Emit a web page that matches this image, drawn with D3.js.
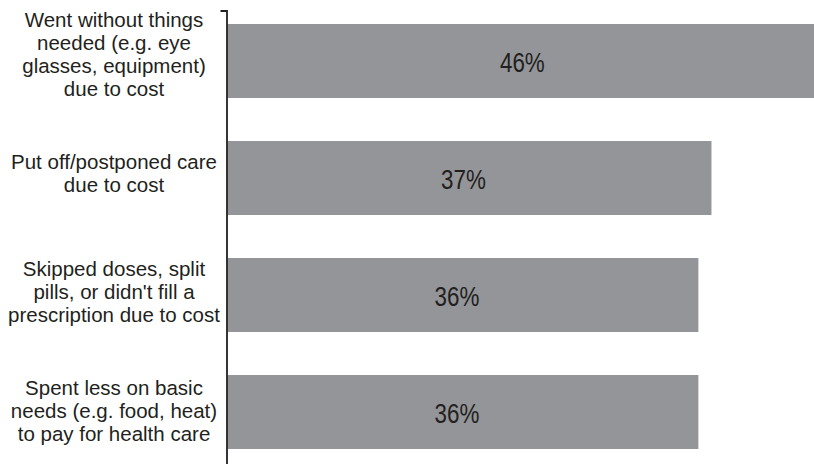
<!DOCTYPE html>
<html>
<head>
<meta charset="utf-8">
<script src="https://cdn.jsdelivr.net/npm/d3@7/dist/d3.min.js"></script>
<style>
  html, body { margin: 0; padding: 0; background: #ffffff; }
  svg { display: block; }
</style>
</head>
<body>
<div id="chart"></div>
<script>
// ---- Data ----
const categories = [
  ["Went without things", "needed (e.g. eye", "glasses, equipment)", "due to cost"],
  ["Put off/postponed care", "due to cost"],
  ["Skipped doses, split", "pills, or didn't fill a", "prescription due to cost"],
  ["Spent less on basic", "needs (e.g. food, heat)", "to pay for health care"]
];
const values = [46, 37, 36, 36];
const valueLabels = ["46%", "37%", "36%", "36%"];

// ---- Layout ----
const W = 814, H = 464;
const axisX = 226.5;
const barLeft = 227.5;

const svg = d3.select("#chart").append("svg")
  .attr("width", W).attr("height", H)
  .attr("viewBox", `0 0 ${W} ${H}`);

const y = d3.scaleBand()
  .domain(d3.range(categories.length))
  .range([10.5, 490])
  .paddingInner(0.3675)
  .paddingOuter(0.2329)
  .align(0.2477);

const x = d3.scaleLinear()
  .domain([0, 50])
  .range([barLeft, barLeft + 654]);

const textColor = "#231f20";
const barColor = "#939598";

// bars
svg.append("g").selectAll("rect")
  .data(values)
  .join("rect")
  .attr("x", x(0))
  .attr("y", (d, i) => y(i))
  .attr("width", d => x(d) - x(0))
  .attr("height", y.bandwidth())
  .attr("fill", barColor);

// value labels (condensed rendering of a sans face)
svg.append("g").selectAll("text")
  .data(values)
  .join("text")
  .attr("transform", (d, i) =>
    `translate(${x(d / 2) - 6},${y(i) + y.bandwidth() / 2 + 11}) scale(0.8,1)`)
  .attr("text-anchor", "middle")
  .attr("font-family", "'Liberation Sans', Arial, sans-serif")
  .attr("font-size", 28)
  .attr("fill", textColor)
  .text((d, i) => valueLabels[i]);

// axis (left spine with top outer tick)
const axis = d3.axisLeft(y).tickSizeInner(0).tickSizeOuter(6).tickFormat("");
const ag = svg.append("g")
  .attr("transform", `translate(${axisX},0)`)
  .call(axis);
ag.select(".domain").attr("stroke", textColor).attr("stroke-width", 1.8);
ag.selectAll(".tick").remove();

// category labels
const lh = 23.3;
const catG = svg.append("g");
categories.forEach((lines, i) => {
  const cy = y(i) + y.bandwidth() / 2 + 0.5 + 1.8 * i;
  const t = catG.append("text")
    .attr("text-anchor", "middle")
    .attr("font-family", "'Liberation Sans', Arial, sans-serif")
    .attr("font-size", 20.5)
    .attr("fill", textColor);
  lines.forEach((ln, j) => {
    t.append("tspan")
      .attr("x", 114)
      .attr("y", cy + (j - (lines.length - 1) / 2) * lh)
      .text(ln);
  });
});
</script>
</body>
</html>
